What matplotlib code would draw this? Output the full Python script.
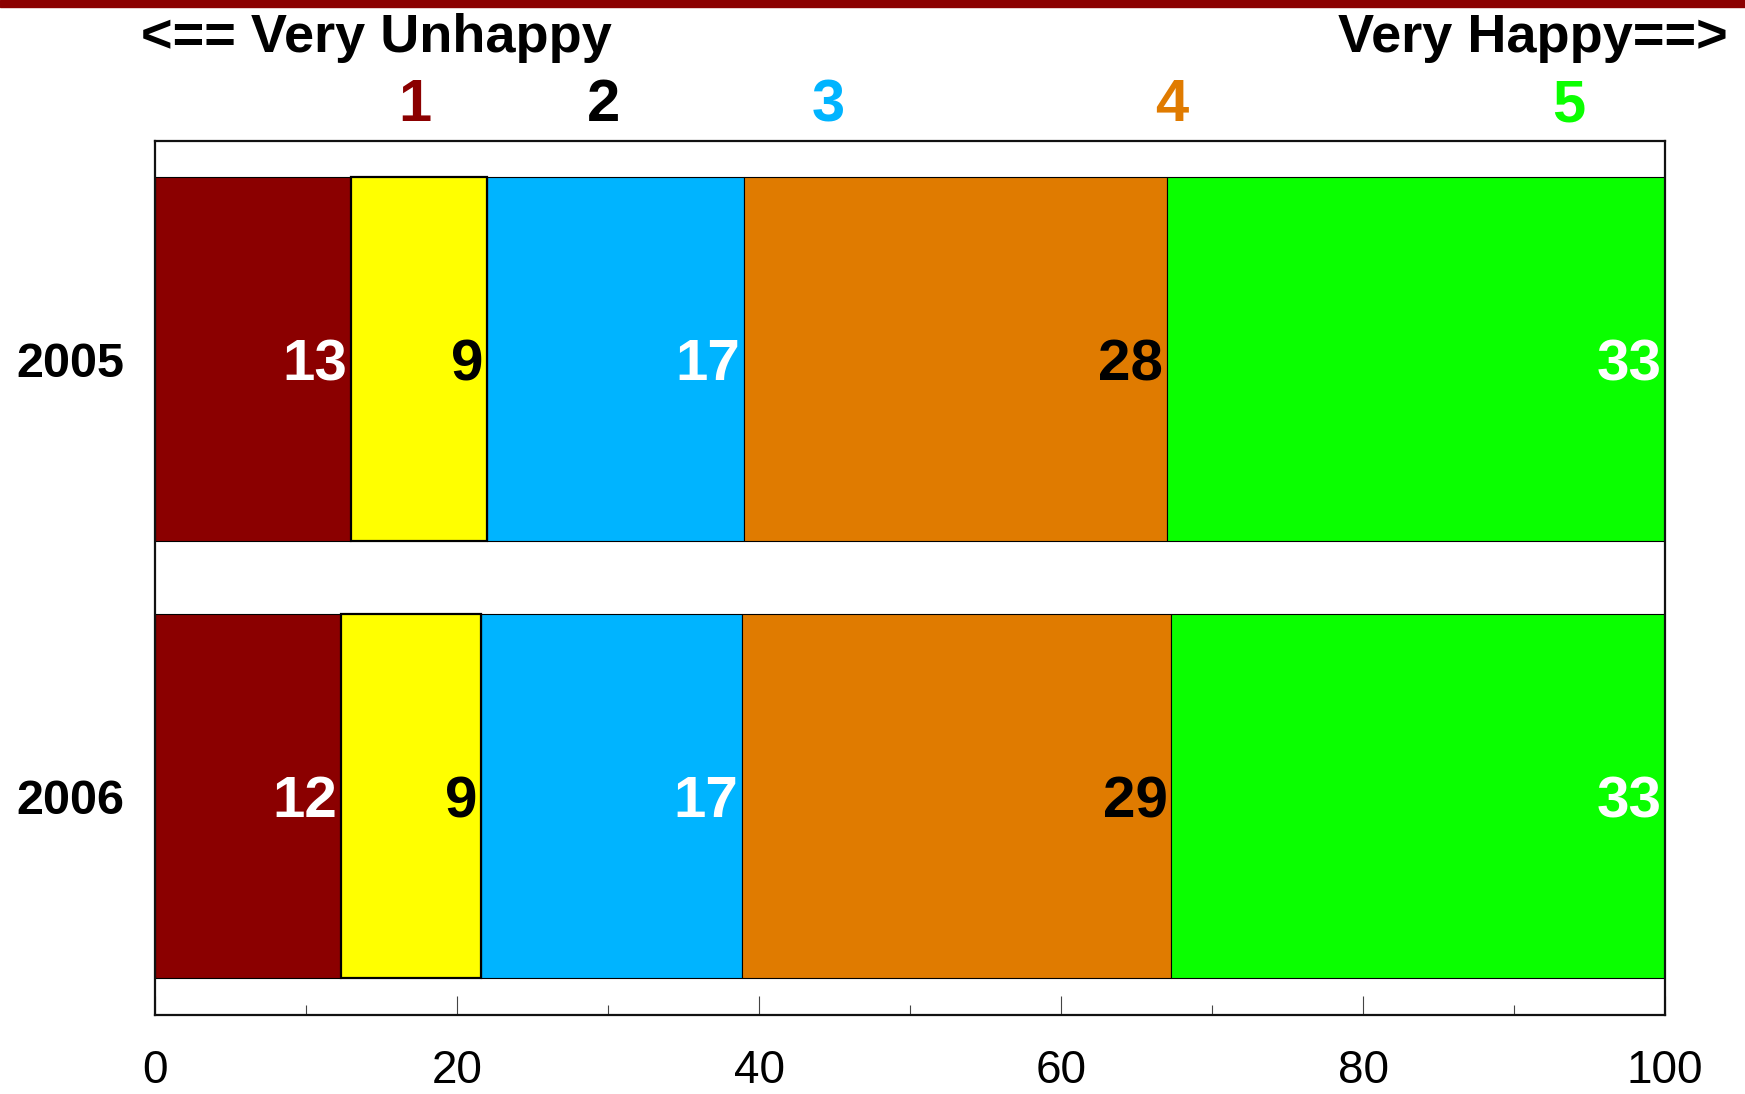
import matplotlib
matplotlib.use('Agg')
import matplotlib.pyplot as plt
from matplotlib.patches import Rectangle
import numpy as np

plt.rcParams['font.family'] = ['Liberation Sans', 'DejaVu Sans']

# data
years = ['2005', '2006']
levels = ['1', '2', '3', '4', '5']
values = {
    '2005': [13, 9, 17, 28, 33],
    '2006': [12.3, 9.3, 17.3, 28.4, 32.7],
}
shown = {
    '2005': [13, 9, 17, 28, 33],
    '2006': [12, 9, 17, 29, 33],
}
x_ticks = [0, 20, 40, 60, 80, 100]

# styles
seg_colors = ['#8B0000', '#FFFF00', '#00B4FF', '#E07B00', '#0AFF00']
text_colors = ['white', 'black', 'white', 'black', 'white']
head_colors = ['#8B0000', 'black', '#00B4FF', '#E07B00', '#0AFF00']
head_x = [17.2, 29.7, 44.6, 67.3, 93.6]

fig = plt.figure(figsize=(17.45, 10.94), dpi=100)
ax = fig.add_axes([0.0888, 0.0725, 0.8654, 0.7989])

ypos = np.arange(len(years))
for yi, yr in zip(ypos, years):
    left = 0
    for k, v in enumerate(values[yr]):
        lw = 1.6 if k == 1 else 0.8
        ax.barh(yi, v, left=left, height=0.833, color=seg_colors[k],
                edgecolor='black', linewidth=lw, zorder=3 if k == 1 else 2)
        ax.text(left + v - 0.25, yi, str(shown[yr][k]), ha='right',
                va='center_baseline', fontsize=42, fontweight='bold',
                color=text_colors[k], zorder=5)
        left += v

ax.set_xlim(0, 100)
ax.set_ylim(1.5, -0.5)
ax.set_yticks(ypos)
ax.set_yticklabels(years, fontsize=35, fontweight='bold')
ax.set_xticks(x_ticks)
ax.set_xticklabels([str(t) for t in x_ticks], fontsize=33)
ax.set_xticks(np.arange(10, 100, 20), minor=True)
ax.tick_params(axis='x', which='major', direction='in', length=14,
               width=0.8, color='#444444', pad=25)
ax.tick_params(axis='x', which='minor', direction='in', length=7,
               width=0.8, color='#444444')
ax.tick_params(axis='y', which='major', direction='in', length=14,
               width=0.8, color='black', pad=22)
for s in ax.spines.values():
    s.set_linewidth(1.6)
    s.set_color('#111111')

# header
fig.text(141 / 1745, 1 - 52 / 1094, '<== Very Unhappy', ha='left',
         va='baseline', fontsize=39, fontweight='bold')
fig.text(1728 / 1745, 1 - 52 / 1094, 'Very Happy==>', ha='right',
         va='baseline', fontsize=39, fontweight='bold')
trans = ax.get_xaxis_transform()
for k, lv in enumerate(levels):
    ax.text(head_x[k], 1.022, lv, transform=trans, ha='center',
            va='baseline', fontsize=43, fontweight='bold',
            color=head_colors[k], clip_on=False)

# red band at the top
fig.patches.append(Rectangle((0, 1 - 7 / 1094), 1, 7 / 1094,
                             transform=fig.transFigure, color='#8B0000'))

fig.savefig('out.png', dpi=100)
